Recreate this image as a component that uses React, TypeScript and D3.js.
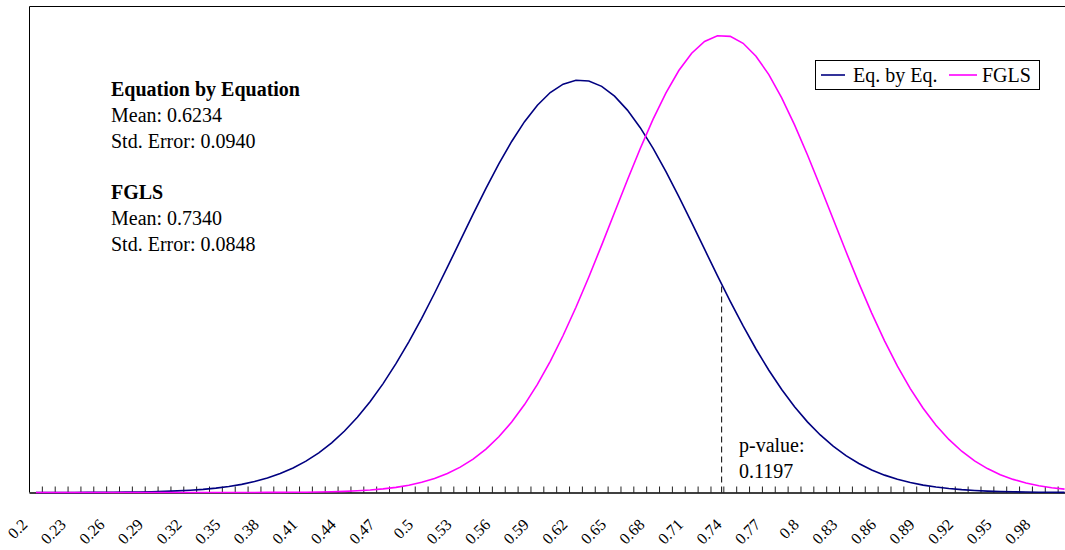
import React from "react";
import * as d3 from "d3";

// Categories (x values) 0.20 .. 1.00
const categories: string[] = [
  "0.2","0.21","0.22","0.23","0.24","0.25","0.26","0.27","0.28","0.29",
  "0.3","0.31","0.32","0.33","0.34","0.35","0.36","0.37","0.38","0.39",
  "0.4","0.41","0.42","0.43","0.44","0.45","0.46","0.47","0.48","0.49",
  "0.5","0.51","0.52","0.53","0.54","0.55","0.56","0.57","0.58","0.59",
  "0.6","0.61","0.62","0.63","0.64","0.65","0.66","0.67","0.68","0.69",
  "0.7","0.71","0.72","0.73","0.74","0.75","0.76","0.77","0.78","0.79",
  "0.8","0.81","0.82","0.83","0.84","0.85","0.86","0.87","0.88","0.89",
  "0.9","0.91","0.92","0.93","0.94","0.95","0.96","0.97","0.98","0.99","1",
];

// Eq. by Eq. density values
const eqByEq: number[] = [
  0.0002,0.0003,0.0004,0.0007,0.0010,0.0016,0.0024,0.0036,0.0054,0.0079,
  0.0114,0.0164,0.0232,0.0325,0.0451,0.0618,0.0837,0.1122,0.1486,0.1945,
  0.2520,0.3226,0.4084,0.5110,0.6326,0.7745,0.9368,1.1204,1.3255,1.5503,
  1.7926,2.0499,2.3177,2.5906,2.8631,3.1287,3.3804,3.6117,3.8150,3.9843,
  4.1147,4.2012,4.2413,4.2336,4.1784,4.0775,3.9342,3.7533,3.5404,3.3020,
  3.0450,2.7764,2.5030,2.2310,1.9664,1.7135,1.4764,1.2577,1.0595,0.8825,
  0.7267,0.5918,0.4764,0.3791,0.2984,0.2323,0.1787,0.1360,0.1023,0.0761,
  0.0559,0.0407,0.0292,0.0208,0.0146,0.0102,0.0070,0.0047,0.0032,0.0021,0.0014,
];

// FGLS density values
const fgls: number[] = [
  0,0,0,0,0,0,0,0,0,0,
  0,0,0,0.0001,0.0001,0.0002,0.0003,0.0005,0.0008,0.0013,
  0.0020,0.0032,0.0050,0.0076,0.0115,0.0173,0.0255,0.0370,0.0530,0.0749,
  0.1045,0.1436,0.1948,0.2606,0.3436,0.4469,0.5731,0.7250,0.9047,1.1126,
  1.3497,1.6150,1.9058,2.2177,2.5452,2.8806,3.2146,3.5387,3.8412,4.1122,
  4.3413,4.5196,4.6408,4.6993,4.6927,4.6215,4.4885,4.2991,4.0608,3.7828,
  3.4752,3.1485,2.8130,2.4787,2.1539,1.8458,1.5600,1.3001,1.0688,0.8663,
  0.6926,0.5459,0.4244,0.3254,0.2461,0.1834,0.1349,0.0979,0.0700,0.0494,0.0344,
];

const tickLabels: string[] = categories.filter((_, i) => i % 3 === 0 && i < 80);

const infoLines: { text: string; bold: boolean }[] = [
  { text: "Equation by Equation", bold: true },
  { text: "Mean: 0.6234", bold: false },
  { text: "Std. Error: 0.0940", bold: false },
  { text: "", bold: false },
  { text: "FGLS", bold: true },
  { text: "Mean: 0.7340", bold: false },
  { text: "Std. Error: 0.0848", bold: false },
];

const pValueText: string[] = ["p-value:", "0.1197"];
const pValueX = 0.7333; // position of the dashed line (fractional category)

const W = 1065;
const H = 550;
const FONT = "'Liberation Serif', 'Times New Roman', serif";
const NAVY = "#000080";
const MAGENTA = "#FF00FF";

export default function App() {
  const left = 29.5;
  const right = 1071;
  const top = 6.5;
  const bottom = 492.5;

  const x = d3.scalePoint<string>().domain(categories).range([left, right]).padding(0.5);
  const step = x.step();
  const y = d3.scaleLinear().domain([0, 5]).range([bottom, top]);

  const line = d3
    .line<number>()
    .x((_, i) => x(categories[i]) as number)
    .y((d) => y(d));

  // dashed p-value line
  const idx = (pValueX - 0.2) / 0.01;
  const i0 = Math.floor(idx);
  const frac = idx - i0;
  const px = (x(categories[i0]) as number) + frac * step;
  const pv = eqByEq[i0] + frac * (eqByEq[i0 + 1] - eqByEq[i0]);
  const py = y(pv);

  const tickPositions = d3.range(1, categories.length + 1).map((k) => left + k * step);

  return (
    <svg
      width={W}
      height={H}
      style={{ position: "absolute", left: 0, top: 0, background: "#fff" }}
      fontFamily={FONT}
    >
      <rect x={0} y={0} width={W} height={H} fill="#fff" />
      {/* plot frame */}
      <line x1={left} x2={W + 10} y1={top} y2={top} stroke="#000" strokeWidth={1} />
      <line x1={left} x2={left} y1={top} y2={bottom} stroke="#000" strokeWidth={1} />

      {/* minor ticks */}
      {tickPositions.map((tx, i) => (
        <line key={i} x1={tx} x2={tx} y1={bottom - 6} y2={bottom} stroke="#222" strokeWidth={1} />
      ))}

      {/* dashed p-value line */}
      <line x1={px} x2={px} y1={bottom} y2={py} stroke="#000" strokeWidth={1} strokeDasharray="6,4" />

      {/* x axis */}
      <line x1={left} x2={W + 10} y1={bottom + 0.5} y2={bottom + 0.5} stroke="#000" strokeWidth={1.6} />

      {/* curves */}
      <path d={line(eqByEq) || ""} fill="none" stroke={NAVY} strokeWidth={1.6} />
      <path d={line(fgls) || ""} fill="none" stroke={MAGENTA} strokeWidth={1.6} />

      {/* tick labels */}
      {tickLabels.map((t) => {
        const cx = x(t) as number;
        return (
          <text
            key={t}
            transform={`translate(${cx - 7.5},${525.5}) rotate(-45)`}
            textAnchor="end"
            fontSize={16}
            fill="#000"
          >
            {t}
          </text>
        );
      })}

      {/* info text */}
      {infoLines.map((l, i) => (
        <text
          key={i}
          x={111}
          y={96 + i * 25.8}
          fontSize={20}
          fontWeight={l.bold ? "bold" : "normal"}
          fill="#000"
        >
          {l.text}
        </text>
      ))}

      {/* p-value text */}
      {pValueText.map((t, i) => (
        <text key={t} x={739} y={452 + i * 25.8} fontSize={20} fill="#000">
          {t}
        </text>
      ))}

      {/* legend */}
      <g>
        <rect x={815.5} y={60.5} width={224} height={29} fill="#fff" stroke="#000" strokeWidth={1} />
        <line x1={821} x2={845} y1={75} y2={75} stroke={NAVY} strokeWidth={1.6} />
        <text x={853} y={82} fontSize={20} fill="#000">Eq. by Eq.</text>
        <line x1={949} x2={977} y1={75} y2={75} stroke={MAGENTA} strokeWidth={1.6} />
        <text x={982} y={82} fontSize={20} fill="#000">FGLS</text>
      </g>
    </svg>
  );
}
